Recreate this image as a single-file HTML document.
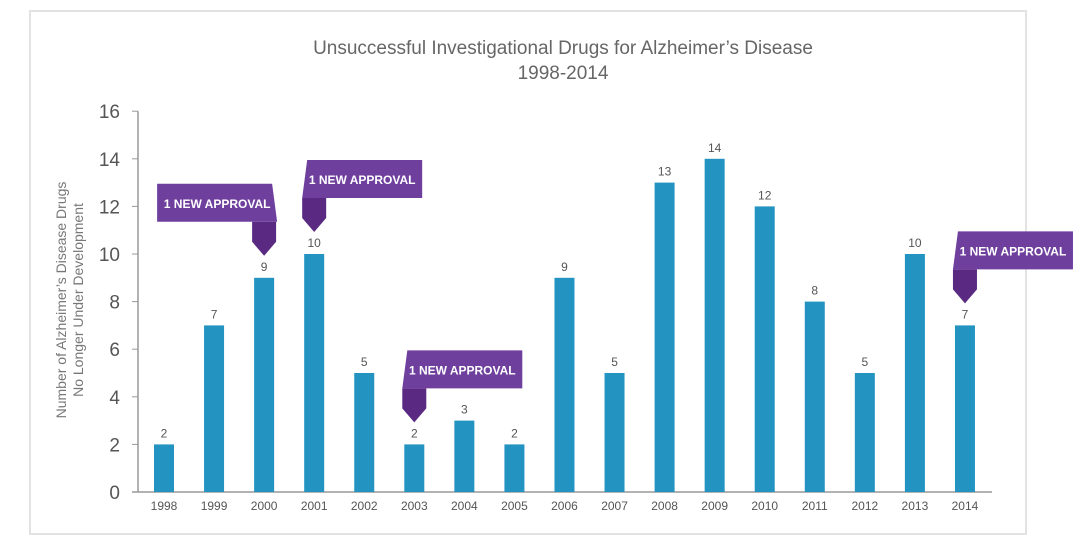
<!DOCTYPE html>
<html><head><meta charset="utf-8"><style>
body{margin:0;background:#fff;width:1083px;height:553px;overflow:hidden;font-family:"Liberation Sans",sans-serif}
</style></head><body>
<svg width="1083" height="553" id="chart" xmlns="http://www.w3.org/2000/svg">
<rect x="30" y="11" width="996" height="523" fill="#fff" stroke="#e2e2e2" stroke-width="2"/>
<text x="563" y="54" text-anchor="middle" font-size="19" fill="#666">Unsuccessful Investigational Drugs for Alzheimer’s Disease</text>
<text x="563" y="79" text-anchor="middle" font-size="19" fill="#666">1998-2014</text>
<g transform="translate(66,300) rotate(-90)">
<text x="0" y="0" text-anchor="middle" font-size="14" fill="#777">Number of Alzheimer’s Disease Drugs</text>
<text x="0" y="17" text-anchor="middle" font-size="14" fill="#777">No Longer Under Development</text>
</g>
<g id="marks"></g>
</svg>
<script>
const years=["1998","1999","2000","2001","2002","2003","2004","2005","2006","2007","2008","2009","2010","2011","2012","2013","2014"];
const counts=[2,7,9,10,5,2,3,2,9,5,13,14,12,8,5,10,7];
const yTicks=[0,2,4,6,8,10,12,14,16];
const approvalYears=["2000","2001","2003","2014"];
const NS="http://www.w3.org/2000/svg";
const g=document.getElementById('marks');
const x0=164,step=50.06,y0=492,unit=23.8,bw=20;
const xs=i=>x0+i*step, ys=v=>y0-v*unit;
function mk(t,a){const e=document.createElementNS(NS,t);for(const k in a)e.setAttribute(k,a[k]);g.appendChild(e);return e;}
yTicks.forEach(v=>{
 const t=mk('text',{x:120,y:ys(v)+7,'text-anchor':'end','font-size':19,fill:'#555'});t.textContent=v;
 
 
 const l=mk('line',{x1:132,x2:138,y1:ys(v),y2:ys(v),stroke:'#999'});
 
 
});
const ax=mk('line',{x1:138,x2:138,y1:ys(16),y2:y0,stroke:'#999','stroke-width':1.5});


const bx=mk('line',{x1:132,x2:992,y1:y0,y2:y0,stroke:'#999','stroke-width':1.5});


years.forEach((yr,i)=>{
 const v=counts[i];
 const r=mk('rect',{x:xs(i)-bw/2,y:ys(v),width:bw,height:v*unit,fill:'#2394c2'});
 
 
 const lb=mk('text',{x:xs(i),y:ys(v)-7,'text-anchor':'middle','font-size':12,fill:'#555'});lb.textContent=v;
 
 
 const xl=mk('text',{x:xs(i),y:y0+18,'text-anchor':'middle','font-size':12,fill:'#555'});xl.textContent=yr;
 
 
});
approvalYears.forEach(yr=>{
 const i=years.indexOf(yr);const cx=xs(i);const tipY=ys(counts[i])-22;
 const left=(yr==="2000");
 const bxL=left?cx-107:cx-12, bxR=bxL+120, by=tipY-72;
 const grp=document.createElementNS(NS,'g');g.appendChild(grp);
 
 
 const pt=document.createElementNS(NS,'path');
 pt.setAttribute('d',`M${cx-12} ${by+38} L${cx+12} ${by+38} L${cx+12} ${tipY-14} L${cx} ${tipY} L${cx-12} ${tipY-14} Z`);
 pt.setAttribute('fill','#5a2a82');grp.appendChild(pt);
 const bxp=document.createElementNS(NS,'path');
 const d=left?`M${bxL} ${by} L${bxR-5} ${by} L${bxR} ${by+38} L${bxL} ${by+38} Z`:`M${bxL+5} ${by} L${bxR} ${by} L${bxR} ${by+38} L${bxL} ${by+38} Z`;
 bxp.setAttribute('d',d);bxp.setAttribute('fill','#6f3f9e');grp.appendChild(bxp);
 const t=document.createElementNS(NS,'text');
 t.setAttribute('x',(bxL+bxR)/2);t.setAttribute('y',by+24);t.setAttribute('text-anchor','middle');
 t.setAttribute('font-size','12');t.setAttribute('font-weight','bold');t.setAttribute('fill','#fff');
 t.textContent='1 NEW APPROVAL';grp.appendChild(t);
});
</script>
</body></html>
